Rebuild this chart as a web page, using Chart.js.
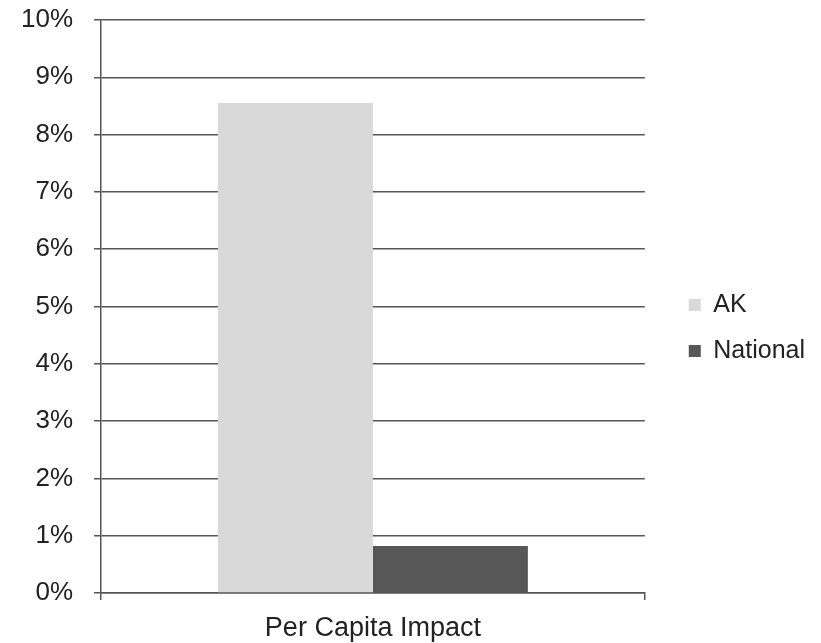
<!DOCTYPE html>
<html>
<head>
<meta charset="utf-8">
<script src="https://cdn.jsdelivr.net/npm/chart.js@4"></script>
<style>
  html, body { margin: 0; padding: 0; background: #fff; }
  #wrap { width: 821px; height: 643px; }
</style>
</head>
<body>
<div id="wrap"><canvas id="chart-area" width="821" height="643"></canvas></div>
<script>
var categories = ["Per Capita Impact"];
var akValues = [8.55];
var nationalValues = [0.82];
var yTicks = [0, 1, 2, 3, 4, 5, 6, 7, 8, 9, 10];

var ctx = document.getElementById("chart-area").getContext("2d");
var myChart = new Chart(ctx, {
    type: 'bar',
    data: {
        labels: categories,
        datasets: [
            { label: "AK", backgroundColor: "#d9d9d9", data: akValues },
            { label: "National", backgroundColor: "#575757", data: nationalValues }
        ]
    },
    options: {
        responsive: false,
        animation: false,
        layout: { padding: { top: 0, right: 6, left: 0, bottom: 0 } },
        datasets: { bar: { categoryPercentage: 0.57, barPercentage: 1.0 } },
        plugins: {
            tooltip: { enabled: false },
            legend: {
                position: 'right',
                title: { display: true, text: ' ', font: { size: 1 }, padding: 6 },
                labels: {
                    boxWidth: 12, boxHeight: 12, padding: 21,
                    color: '#222',
                    font: { family: 'Liberation Sans, Arial', size: 25 }
                }
            }
        },
        scales: {
            x: {
                grid: { drawOnChartArea: false, color: '#555', lineWidth: 1.5, tickLength: 7 },
                border: { color: '#555', width: 1.5 },
                ticks: { color: '#222', padding: 12, font: { family: 'Liberation Sans, Arial', size: 27 } },
                afterFit: function(scale) { scale.height = 50; }
            },
            y: {
                min: 0, max: 10,
                afterBuildTicks: function(axis) {
                    axis.ticks = yTicks.map(function(v) { return { value: v }; });
                },
                grid: { color: '#555', lineWidth: 1.5, tickLength: 7 },
                border: { color: '#555', width: 1.5 },
                ticks: {
                    color: '#222', padding: 21,
                    font: { family: 'Liberation Sans, Arial', size: 26 },
                    callback: function(v) { return v + '%'; }
                },
                afterFit: function(scale) { scale.paddingTop = 20; scale.paddingBottom = 15; }
            },
            gap: {
                position: 'right',
                display: false,
                afterFit: function(scale) { scale.width = 23; }
            }
        }
    }
});
</script>
</body>
</html>
